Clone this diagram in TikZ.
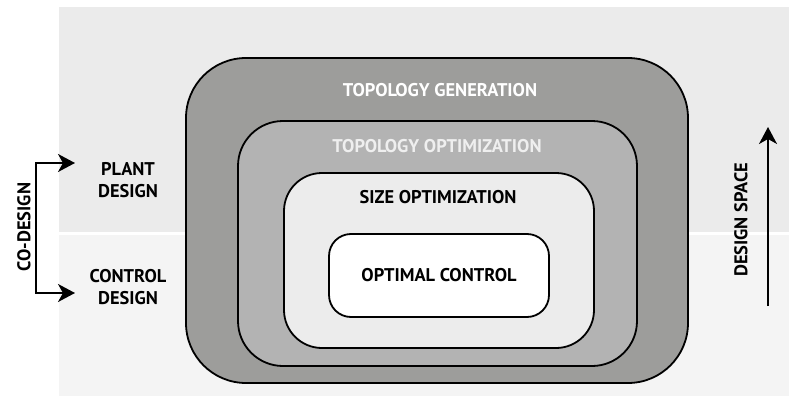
\documentclass[tikz,border=0pt]{standalone}
\usepackage{fontspec}
\setmainfont{PT Sans}
\usepackage{xcolor}
\usepackage{tikz}
\usetikzlibrary{arrows.meta,positioning}

\definecolor{bandtop}{HTML}{EBEBEB}
\definecolor{bandlow}{HTML}{F4F4F4}
\definecolor{layerone}{HTML}{9D9D9B}
\definecolor{layertwo}{HTML}{B3B3B3}
\definecolor{layerthree}{HTML}{ECECEC}
\definecolor{labeltwo}{HTML}{EFEFEF}

\begin{document}
\begin{tikzpicture}[x=1pt, y=-1pt,
    every node/.style={font=\bfseries\fontsize{18.4}{22}\selectfont, align=center},
    layer/.style={draw, rectangle, line width=1.8pt, inner sep=0pt, outer sep=0pt},
    arr/.style={-{Stealth[length=17pt, width=18pt, inset=5pt]}, line width=1.8pt}]
    \useasboundingbox (0,0) rectangle (789,396);

    % Bands
    \fill[bandtop] (59,7) rectangle (789,232);
    \fill[bandlow] (59,235) rectangle (789,396);

    % Nested layers
    \node[layer, fill=layerone, rounded corners=60pt, minimum width=502pt, minimum height=325pt] (topgen) at (437,220.5) {};
    \node[layer, fill=layertwo, rounded corners=45pt, minimum width=399pt, minimum height=245pt] (topopt) at (437.5,243.5) {};
    \node[layer, fill=layerthree, rounded corners=38pt, minimum width=310pt, minimum height=175pt] (sizeopt) at (439,260.5) {};
    \node[layer, fill=white, rounded corners=22pt, minimum width=220pt, minimum height=83pt] (optctrl) at (439,275.5) {OPTIMAL CONTROL};

    % Layer titles
    \node[text=white] (topgen-label) at (440,90) {TOPOLOGY GENERATION};
    \node[text=labeltwo] (topopt-label) at (437,146) {TOPOLOGY OPTIMIZATION};
    \node (sizeopt-label) at (438,197) {SIZE OPTIMIZATION};

    % Co-design
    \node (plant) at (128,180) {PLANT\\DESIGN};
    \node (control) at (128,287) {CONTROL\\DESIGN};
    \coordinate (co-top) at (36,163);
    \coordinate (co-bot) at (36,293);
    \draw[arr] (co-bot) -- (co-top) -- (75,163);
    \draw[arr] (co-top) -- (co-bot) -- (75,293);
    \node[rotate=90] (codesign) at (24,227) {CO-DESIGN};

    % Design space
    \coordinate (space-bot) at (768,306);
    \coordinate (space-top) at (768,127);
    \draw[arr] (space-bot) -- (space-top);
    \node[rotate=90] (space) at (741,220) {DESIGN SPACE};
\end{tikzpicture}
\end{document}
